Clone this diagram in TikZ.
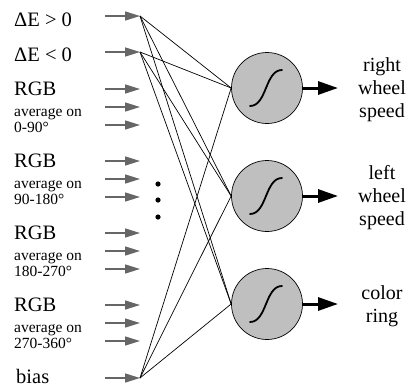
\documentclass[tikz,border=0pt]{standalone}
\usepackage{fontspec}
\setmainfont{Liberation Serif}
\usetikzlibrary{arrows.meta}
\tikzset{
  inlabel/.style={anchor=base west, inner sep=0pt, font=\fontsize{20.5}{22}\selectfont},
  smalltext/.style={font=\fontsize{15.5}{18}\selectfont},
  outlabel/.style={align=center, inner sep=0pt, font=\fontsize{20}{23}\selectfont},
  inarrow/.style={draw=black!60, line width=1.5pt, -{Triangle[length=15pt,width=9pt]}},
  outarrow/.style={line width=3pt, -{Triangle[length=20pt,width=13pt]}},
  weight/.style={line width=0.7pt},
  neuron/.style={circle, draw, line width=0.7pt, fill=black!25, minimum size=71pt, inner sep=0pt},
  sigmoid/.style={line width=1.8pt, line cap=round}
}
\begin{document}
\begin{tikzpicture}[x=1pt,y=-1pt]
\useasboundingbox (0,0) rectangle (406,389);

%%% inputs %%%
\node[inlabel] (lblpos) at (14,26.5) {ΔE > 0};
\node[inlabel] (lblneg) at (14,61) {ΔE < 0};
\node[inlabel] (lblbias) at (16,383) {bias};
\foreach \y/\nm in {16/tippos,52/tipneg,378/tipbias} {
  \coordinate (\nm-s) at (105,\y);
  \coordinate (\nm) at (140,\y);
  \draw[inarrow] (\nm-s) -- (\nm);
}
\foreach \rng [count=\i] in {0-90°,90-180°,180-270°,270-360°} {
  \pgfmathsetmacro\y{17+72*\i}
  \node[inlabel] (rgb\i) at (14,\y+6.5) {RGB};
  \node[inlabel, smalltext] (avg\i) at (14,\y+27) {average on};
  \node[inlabel, smalltext] (rng\i) at (14,\y+43.5) {\rng};
  \foreach \k in {0,1,2} {
    \coordinate (c\i\k-s) at (105,\y+18*\k);
    \coordinate (c\i\k) at (140,\y+18*\k);
    \draw[inarrow] (c\i\k-s) -- (c\i\k);
  }
}
% dots
\foreach \y in {184,200,217} \fill (158,\y) circle (2.6pt);

%%% neurons %%%
\node[neuron] (n1) at (267,88) {};
\node[neuron] (n2) at (267,196) {};
\node[neuron] (n3) at (267,304) {};
\foreach \j in {1,2,3} {
  \draw[sigmoid, shift={(n\j)}] (-17,18) .. controls (0,18) and (-2,-18) .. (15,-18);
}
\foreach \src in {tippos,tipneg,tipbias}
  \foreach \j in {1,2,3}
    \draw[weight] (\src) -- (n\j.west);

%%% outputs %%%
\node[outlabel] (out1) at (382,90) {right\\wheel\\speed};
\node[outlabel] (out2) at (382,198) {left\\wheel\\speed};
\node[outlabel] (out3) at (382,306.5) {color\\ring};
\foreach \j/\y in {1/88,2/196,3/304} {
  \coordinate (ot\j) at (338,\y);
  \draw[outarrow] (n\j.east) -- (ot\j);
}
\end{tikzpicture}
\end{document}
